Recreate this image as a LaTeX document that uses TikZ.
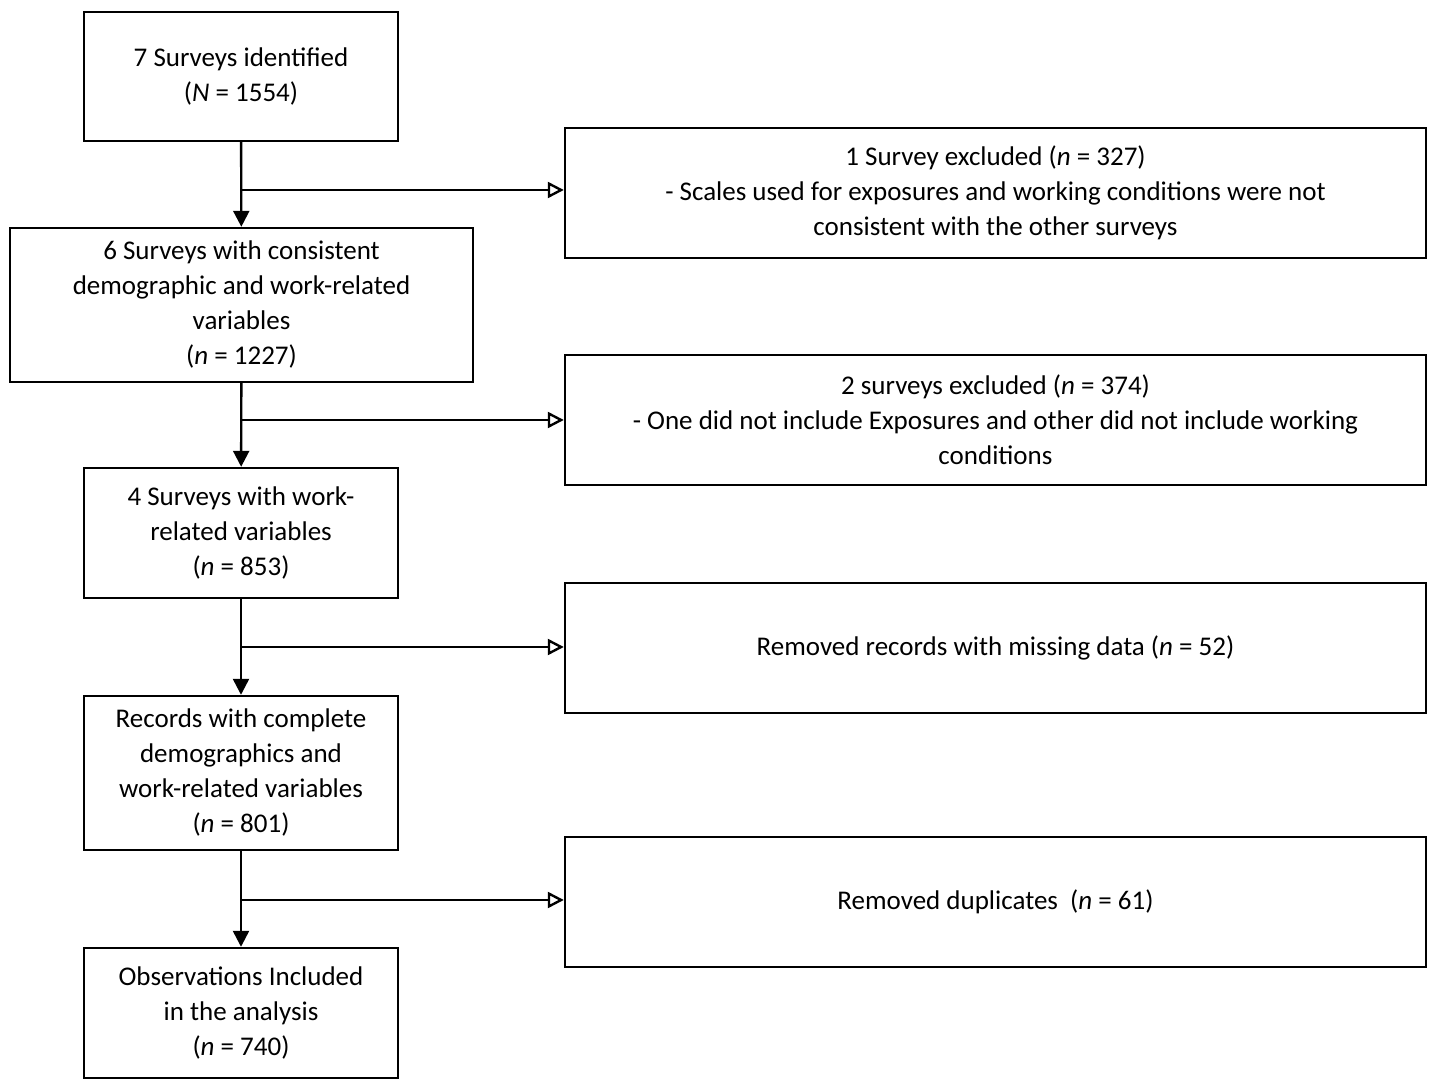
\documentclass[tikz,border=0pt]{standalone}
\usepackage{fontspec}
\setmainfont{Carlito}
\usetikzlibrary{arrows.meta}
\begin{document}
\begin{tikzpicture}[x=0.5pt,y=-0.5pt,
  box/.style={draw,line width=1.2pt,align=center,inner sep=0pt,font=\fontsize{13.5}{17.5}\selectfont},
  main/.style={line width=1.2pt,-{Triangle[length=8pt,width=8pt]}},
  side/.style={line width=1.2pt,-{Triangle[open,length=8pt,width=8pt]}}]
\useasboundingbox (0,0) rectangle (1437,1090);
\node[box,minimum width=157pt,minimum height=64.5pt] (b1) at (241,76.5) {7 Surveys identified\\(\textit{N} = 1554)};
\node[box,minimum width=231.5pt,minimum height=77pt] (b2) at (241.5,305) {6 Surveys with consistent\\demographic and work-related\\variables\\(\textit{n} = 1227)};
\node[box,minimum width=157pt,minimum height=65pt] (b3) at (241,533) {4 Surveys with work-\\related variables\\(\textit{n} = 853)};
\node[box,minimum width=157pt,minimum height=77pt] (b4) at (241,773) {Records with complete\\demographics and\\work-related variables\\(\textit{n} = 801)};
\node[box,minimum width=157pt,minimum height=65pt] (b5) at (241,1013) {Observations Included\\in the analysis\\(\textit{n} = 740)};
\node[box,minimum width=430.5pt,minimum height=65pt] (r1) at (995.5,193) {1 Survey excluded (\textit{n} = 327)\\- Scales used for exposures and working conditions were not\\consistent with the other surveys};
\node[box,minimum width=430.5pt,minimum height=65pt] (r2) at (995.5,420) {2 surveys excluded (\textit{n} = 374)\\- One did not include Exposures and other did not include working\\conditions};
\node[box,minimum width=430.5pt,minimum height=65pt] (r3) at (995.5,648) {Removed records with missing data (\textit{n} = 52)};
\node[box,minimum width=430.5pt,minimum height=65pt] (r4) at (995.5,902) {Removed duplicates\ \ (\textit{n} = 61)};
\draw[main] (b1) -- (b2);
\draw[main] (b2) -- (b3);
\draw[main] (b3) -- (b4);
\draw[main] (b4) -- (b5);
\coordinate (j1) at (241,190);
\coordinate (j2) at (241,420);
\coordinate (j3) at (241,647);
\coordinate (j4) at (241,900);
\draw[side] (j1) -- (r1.west |- j1);
\draw[side] (j2) -- (r2.west |- j2);
\draw[side] (j3) -- (r3.west |- j3);
\draw[side] (j4) -- (r4.west |- j4);
\end{tikzpicture}
\end{document}
